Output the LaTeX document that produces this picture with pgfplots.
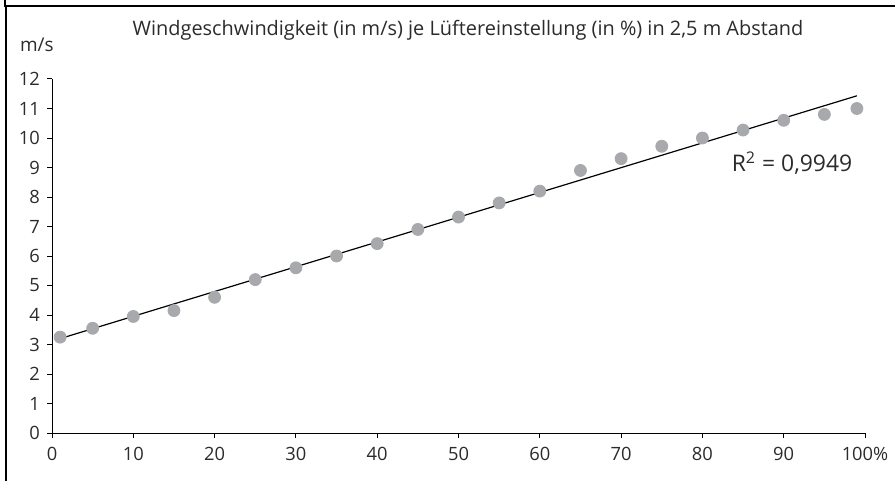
\documentclass[border=0pt]{standalone}
\usepackage{pgfplots}
\pgfplotsset{compat=1.18}
\usepackage{fontspec}
\setmainfont{Open Sans}
\definecolor{dotgray}{HTML}{A7A9AC}
\definecolor{txt}{HTML}{2B2B2B}

\begin{document}
\begin{tikzpicture}[x=1bp,y=1bp]
\useasboundingbox (0,0) rectangle (447.5,240.5);
% frame (only top and left edges visible)
\draw[line width=1bp] (2.5,240.5) -- (2.5,237.5) -- (447.5,237.5);
\draw[line width=1bp] (3,0) -- (3,238);

\node[txt, font=\fontsize{10}{12}\selectfont] at (234,225.5)
  {Windgeschwindigkeit (in m/s) je Lüftereinstellung (in \%) in 2,5 m Abstand};
\node[txt, font=\fontsize{9.5}{11}\selectfont, anchor=west] at (6.5,218) {m/s};

\begin{axis}[
    at={(26bp,24bp)}, anchor=origin,
    scale only axis,
    width=406.5bp, height=177bp,
    xmin=0, xmax=100, ymin=0, ymax=12,
    axis x line*=bottom, axis y line*=left,
    axis line style={black, line width=0.5pt},
    xtick={0,10,...,100},
    xticklabels={0,10,20,30,40,50,60,70,80,90,100\%},
    ytick={0,1,...,12},
    tick align=outside,
    major tick length=2.5bp,
    tick style={black, line width=0.5pt},
    ticklabel style={txt, font=\fontsize{9.2}{11}\selectfont},
    /pgf/number format/assume math mode=true,
    xticklabel style={yshift=-1bp},
    clip=false,
]
\addplot[only marks, mark=*, mark size=3bp, dotgray, mark options={draw=none, fill=dotgray}]
coordinates {
  (1,3.25) (5,3.55) (10,3.95) (15,4.15) (20,4.6) (25,5.2) (30,5.6)
  (35,6.0) (40,6.42) (45,6.9) (50,7.32) (55,7.8) (60,8.2) (65,8.9)
  (70,9.3) (75,9.72) (80,10.0) (85,10.27) (90,10.6) (95,10.8) (99,11.0)
};
\addplot[black, line width=0.6pt] coordinates {(1,3.2) (99,11.43)};
\node[txt, anchor=east, font=\fontsize{11.5}{13}\selectfont] at (axis cs:99.3,9.15) {R\textsuperscript{2} = 0,9949};
\end{axis}
\end{tikzpicture}
\end{document}
